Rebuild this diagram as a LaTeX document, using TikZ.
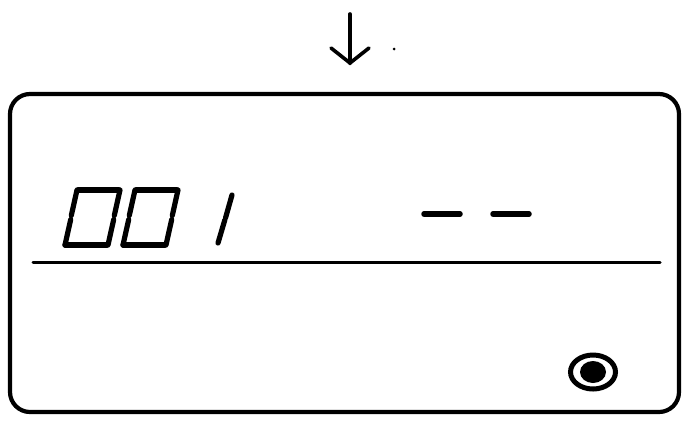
\documentclass[tikz,border=0pt]{standalone}
\begin{document}
\begin{tikzpicture}[x=1pt,y=-1pt,line cap=round,
  frame/.style={line width=4.2pt,rounded corners=20pt},
  seg/.style={line width=5.2pt},
  arr/.style={line width=3.6pt,line join=miter}]
\useasboundingbox (0,0) rectangle (692,432);
% arrow
\coordinate (atop) at (350,14);
\coordinate (atip) at (350,63);
\draw[arr] (atop) -- (atip);
\draw[arr] (331,48) -- (atip) -- (369,48);
\fill (394,49) circle (1.5pt);
% display frame
\draw[frame] (10,94) rectangle (679,412);
\coordinate (ruleL) at (33,262);
\coordinate (ruleR) at (660,262);
\draw[line width=3pt] (ruleL) -- (ruleR);
% seven-segment zeros
\foreach \dx in {0,58}{
  \begin{scope}[xshift=\dx pt]
    \draw[seg] (78,190) -- (119,190);
    \draw[seg] (77,190) -- (71.3,215.5);
    \draw[seg] (70.7,219.5) -- (65,245);
    \draw[seg] (65,245) -- (107,245);
    \draw[seg] (120,190) -- (114.3,215.5);
    \draw[seg] (113.7,219.5) -- (108,245);
  \end{scope}
}
% one
\draw[seg] (232,195) -- (225.5,218);
\draw[seg] (224.8,220) -- (218,243);
% dashes
\draw[line width=5.5pt] (424,214) -- (460,214);
\draw[line width=5.5pt] (493,214) -- (529,214);
% indicator
\draw[line width=5pt] (593,372) ellipse [x radius=22.5, y radius=17];
\fill (593,372) ellipse [x radius=13, y radius=11];
\end{tikzpicture}
\end{document}
